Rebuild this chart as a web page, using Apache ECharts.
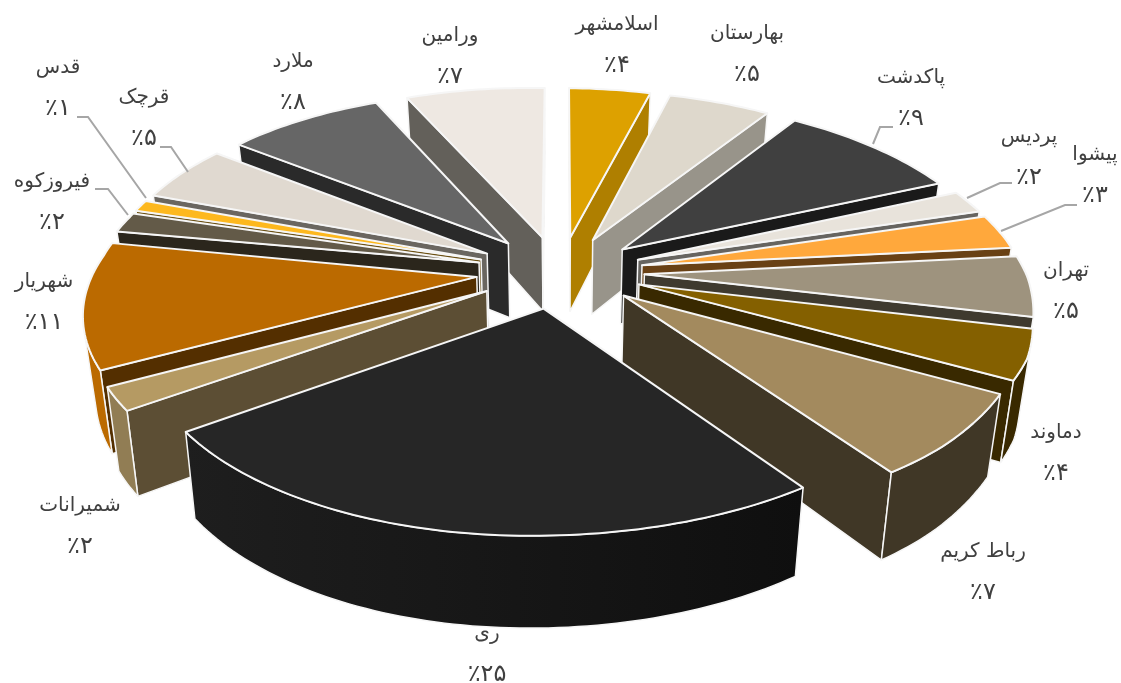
<!DOCTYPE html>
<html><head><meta charset="utf-8">
<style>html,body{margin:0;padding:0;background:#fff}#c{width:1121px;height:683px}</style>
<script src="https://cdn.jsdelivr.net/npm/echarts@6/dist/echarts.min.js"></script>
</head><body><div id="c"></div>
<script>
const categories = ['اسلامشهر','بهارستان','پاکدشت','پردیس','پیشوا','تهران','دماوند','رباط کریم','ری','شمیرانات','شهریار','فیروزکوه','قدس','قرچک','ملارد','ورامین'];
const values = [4,5,9,2,3,5,4,7,25,2,11,2,1,5,8,7];
const topColors = ['#DDA100','#DED8CC','#404040','#E8E3DB','#FFA83C','#9E937E','#846000','#A38A5E','#262626','#B59A63','#BB6A00','#635A48','#FDB81E','#E0D9D0','#666666','#EEE8E2'];
const radialColors = ['#AF7F00','#98948A','#1A1A1A','#666460','#694115','#3F3A2F','#392900','#403726','#1E1E1E','#5C4E34','#542F00','#2B261C','#6B5014','#6A6660','#2A2A2A','#63605A'];
const outerColors = ['#AF7F00','#98948A','#1A1A1A','#666460','#694115','#3F3A2F','#392900','#403726','#1E1E1E','#917D54','#BB6A00','#2B261C','#6B5014','#6A6660','#2A2A2A','#63605A'];
const outerColorsEnd = {8:'#0F0F0F'};
const labelCenters = [[617,45],[747,54],[911,98],[1029,157],[1095,175],[1066,291],[1056,453],[983,572],[487,654],[80,526],[44,302],[52,202],[58,88],[144,118],[293,82],[450,56]];
const leaderLines = [[[873,144],[880,127],[893,127]],[[967,198],[1000,183],[1012,183]],[[1001,231],[1065,205],[1077,205]],[[146,198],[88,117],[77,117]],[[188,172],[171,147],[160,147]],[[128,215],[108,189],[95,189]]];

// camera / solid
const cx=560, cy=272, R=385, explode=85, explodeZ=0.9, tilt=0.47, persp=2600, depth=76, vertH=2800;
const frontShear=0.11;
const clamp01=v=>Math.min(1,Math.max(0,v));
function rollAt(X,Z){ return X>0 ? 0.012+0.028*clamp01(Z/300) : 0.02+0.016*clamp01((Z+100)/100); }
function xScaleAt(X,Z){ return X>0 ? 0.995+0.03*clamp01(Z/150) : 0.975; }
function proj(X,Z,h){
  const s=1/(1-Z/persp), f=1-h/vertH;
  return [cx-frontShear*Math.max(Z,0)+X*xScaleAt(X,Z)*s*f, cy+(Z*tilt+h+rollAt(X,Z)*X)*s];
}
const total=values.reduce((a,b)=>a+b,0);
const persianDigits='۰۱۲۳۴۵۶۷۸۹';
const pct=v=>'٪'+String(v).replace(/\d/g,d=>persianDigits[d]);
const starts=[];values.reduce((a,v,i)=>{starts[i]=a;return a+v;},0);
const midOf=i=>(starts[i]+values[i]/2)/total*2*Math.PI;
const order=values.map((_,i)=>i).sort((a,b)=>(-Math.cos(midOf(a)))-(-Math.cos(midOf(b))));
const seriesData=order.map(i=>({value:[values[i],i],name:categories[i]}));

function shoelace(p){let s=0;for(let i=0;i<p.length;i++){const q=p[(i+1)%p.length];s+=p[i][0]*q[1]-q[0]*p[i][1];}return s;}
function renderSlice(params,api){
  const share=api.value(0), i=api.value(1);
  const a0=starts[i]/total*2*Math.PI, a1=(starts[i]+share)/total*2*Math.PI, m=(a0+a1)/2;
  const ox=explode*Math.sin(m), oz=-explode*explodeZ*Math.cos(m);
  const n=Math.max(4,Math.ceil(share*3));
  const top=[],bot=[];
  const pt=(X,Z)=>{top.push(proj(X,Z,0));bot.push(proj(X,Z,depth));};
  pt(ox,oz);
  for(let k=0;k<=n;k++){const a=a0+(a1-a0)*k/n;pt(ox+R*Math.sin(a),oz-R*Math.cos(a));}
  const L=top.length, children=[];
  const stroke='#f6f6f6';
  const poly=(pts,fill,lw)=>children.push({type:'polygon',shape:{points:pts},style:{fill,stroke,lineWidth:lw,lineJoin:'round'},silent:true});
  const vis=(p,q)=>shoelace([top[p],top[q],bot[q],bot[p]])<0;
  if(vis(0,1)) poly([top[0],top[1],bot[1],bot[0]],radialColors[i],1.5);
  if(vis(L-1,0)) poly([top[L-1],top[0],bot[0],bot[L-1]],radialColors[i],1.5);
  let k=1;
  while(k<L-1){
    if(!vis(k,k+1)){k++;continue;}
    let e=k;while(e<L-1&&vis(e,e+1))e++;
    const up=top.slice(k,e+1), dn=bot.slice(k,e+1).reverse();
    let fill=outerColors[i];
    if(outerColorsEnd[i]) fill={type:'linear',x:0,y:0,x2:1,y2:0,colorStops:[{offset:0,color:outerColors[i]},{offset:1,color:outerColorsEnd[i]}]};
    poly(up.concat(dn),fill,1.5);
    k=e;
  }
  poly(top,topColors[i],2);
  const lc=labelCenters[i];
  children.push({type:'text',z2:100,silent:true,x:lc[0],y:lc[1],style:{text:'{n|'+categories[i]+'}\n{p|'+pct(share)+'}',align:'center',verticalAlign:'middle',rich:{n:{fill:'#404040',font:'20px "DejaVu Sans"',lineHeight:41,align:'center'},p:{fill:'#404040',font:'24px "DejaVu Sans"',lineHeight:41,align:'center'}}}});
  return {type:'group',children};
}
const chart=echarts.init(document.getElementById('c'),null,{renderer:'canvas'});
chart.setOption({
  animation:false,backgroundColor:'#fff',
  graphic:leaderLines.map(p=>({type:'polyline',z:5,shape:{points:p},style:{stroke:'#A6A6A6',lineWidth:2,fill:null},silent:true})),
  series:[{type:'custom',coordinateSystem:'none',z:2,renderItem:renderSlice,data:seriesData,animation:false,silent:true}]
});
</script></body></html>
